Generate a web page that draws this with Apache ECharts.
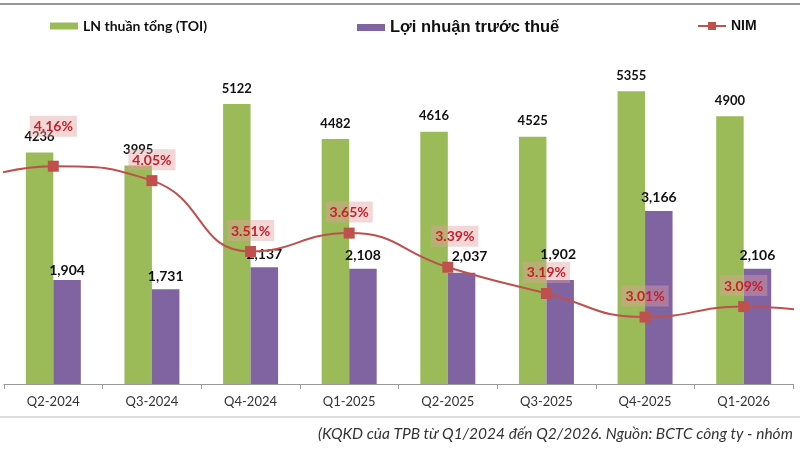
<!DOCTYPE html>
<html>
<head>
<meta charset="utf-8">
<script src="https://cdn.jsdelivr.net/npm/echarts@6/dist/echarts.min.js"></script>
<style>
  html, body { margin: 0; padding: 0; background: #fff; }
  #chart { width: 800px; height: 450px; }
</style>
</head>
<body>
<div id="chart"></div>
<script>
// quý - Q1-2024 và Q2-2026 nằm ngoài khung ảnh (chỉ thấy đường NIM chạy ra mép)
const quarters = ['Q1-2024', 'Q2-2024', 'Q3-2024', 'Q4-2024', 'Q1-2025', 'Q2-2025', 'Q3-2025', 'Q4-2025', 'Q1-2026', 'Q2-2026'];
// LN thuần tổng (TOI), tỷ đồng
const toi = [null, 4236, 3995, 5122, 4482, 4616, 4525, 5355, 4900, null];
// Lợi nhuận trước thuế, tỷ đồng
const pbt = [null, 1904, 1731, 2137, 2108, 2037, 1902, 3166, 2106, null];
// NIM, %
const nim = [4.0, 4.16, 4.05, 3.51, 3.65, 3.39, 3.19, 3.01, 3.09, 3.02];

const GREEN = '#9bbb59';
const PURPLE = '#8064a2';
const RED = '#c0504d';

// dịch nhãn riêng lẻ cho khỏi chồng nhau
const nimLabelShift = { 1: [0, -19], 5: [7, -10] };
const pbtLabelShift = { 1: [0, 4], 5: [8, -3], 6: [-2, -13] };

const myChart = echarts.init(document.getElementById('chart'));

const option = {
  animation: false,
  backgroundColor: '#fff',
  grid: { left: 4, right: 7, top: 56, bottom: 66 },
  legend: [
    {
      data: ['LN thuần tổng (TOI)'],
      left: 50, top: 19, padding: 0,
      icon: 'rect', itemWidth: 28, itemHeight: 7,
      textStyle: { fontFamily: 'Lato', fontWeight: 'bold', fontSize: 14, color: '#111' }
    },
    {
      data: ['Lợi nhuận trước thuế'],
      left: 357, top: 19, padding: 0,
      icon: 'rect', itemWidth: 28, itemHeight: 7,
      textStyle: { fontFamily: 'Liberation Sans', fontWeight: 'bold', fontSize: 16.5, color: '#111' }
    },
    {
      data: ['NIM'],
      left: 697, top: 19, padding: 0,
      itemWidth: 28, itemHeight: 10,
      textStyle: { fontFamily: 'Liberation Sans', fontWeight: 'bold', fontSize: 14, color: '#111' }
    }
  ],
  xAxis: {
    type: 'category',
    data: quarters,
    min: 1,
    max: 8,
    axisLine: { lineStyle: { color: '#999', width: 1 } },
    axisTick: { show: true, length: 5, lineStyle: { color: '#999' } },
    axisLabel: { interval: 0, margin: 11, fontFamily: 'Lato', fontSize: 13, color: '#333' }
  },
  yAxis: [
    { type: 'value', min: 0, max: 6000, show: false, splitLine: { show: false } },
    { type: 'value', min: 2.5, max: 5, show: false, splitLine: { show: false } }
  ],
  series: [
    {
      name: 'LN thuần tổng (TOI)',
      type: 'bar',
      data: toi,
      barWidth: 27.5,
      barGap: '0%',
      z: 2,
      itemStyle: { color: GREEN },
      label: {
        show: true, position: 'top', distance: 9,
        fontFamily: 'Lato', fontWeight: 'bold', fontSize: 13, color: '#111'
      }
    },
    {
      name: 'Lợi nhuận trước thuế',
      type: 'bar',
      data: pbt.map((v, i) => pbtLabelShift[i] ? { value: v, label: { offset: pbtLabelShift[i] } } : v),
      barWidth: 27.5,
      z: 2,
      itemStyle: { color: PURPLE },
      label: {
        show: true, position: 'top', distance: 6,
        fontFamily: 'Lato', fontWeight: 'bold', fontSize: 14, color: '#111',
        formatter: p => p.value.toLocaleString('en-US')
      }
    },
    {
      name: 'NIM',
      type: 'line',
      yAxisIndex: 1,
      data: nim.map((v, i) => nimLabelShift[i] ? { value: v, label: { offset: nimLabelShift[i] } } : v),
      smooth: true,
      clip: false,
      z: 5,
      symbol: 'rect',
      symbolSize: 11,
      lineStyle: { color: RED, width: 2 },
      itemStyle: { color: RED },
      label: {
        show: true, position: 'top', distance: 5,
        fontFamily: 'Lato', fontWeight: 'bold', fontSize: 14, color: '#c8202a',
        backgroundColor: 'rgba(226,160,160,0.42)',
        padding: [4, 4, 3, 4],
        formatter: p => p.value.toFixed(2) + '%'
      }
    }
  ],
  graphic: [
    { type: 'line', shape: { x1: 0, y1: 4, x2: 800, y2: 4 }, style: { stroke: '#999', lineWidth: 2 } },
    { type: 'line', shape: { x1: 0, y1: 417, x2: 800, y2: 417 }, style: { stroke: '#bbb', lineWidth: 1 } },
    {
      type: 'text', left: 318, top: 426,
      style: {
        text: '(KQKD của TPB từ Q1/2024 đến Q2/2026. Nguồn: BCTC công ty - nhóm',
        fontFamily: 'Lato', fontStyle: 'italic', fontSize: 15.5, fill: '#333'
      }
    }
  ]
};

myChart.setOption(option);
</script>
</body>
</html>
